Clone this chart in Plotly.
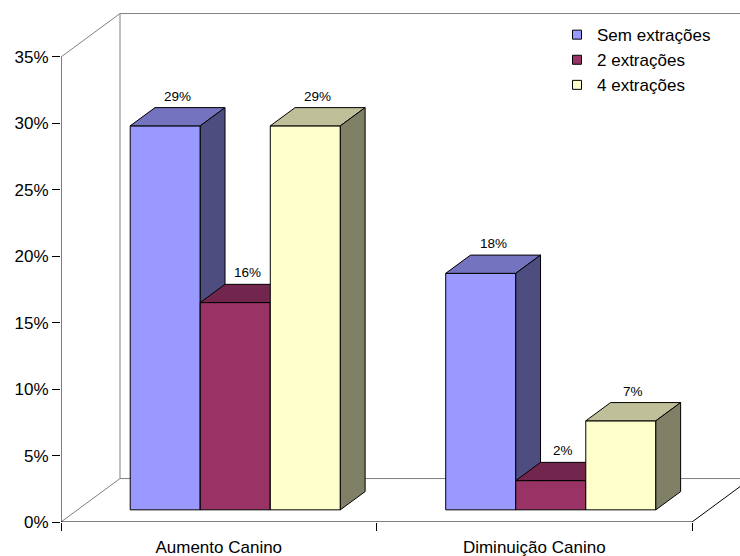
import plotly.graph_objects as go

# ---- data -------------------------------------------------------------
categories = ["Aumento Canino", "Diminuição Canino"]
series_names = ["Sem extrações", "2 extrações", "4 extrações"]
sem_extracoes = [28.9, 17.8]
duas_extracoes = [15.6, 2.2]
quatro_extracoes = [28.9, 6.7]
y_ticks = [0, 5, 10, 15, 20, 25, 30, 35]

series_values = [sem_extracoes, duas_extracoes, quatro_extracoes]

# ---- style ------------------------------------------------------------
front_colors = ["#9999FF", "#993366", "#FFFFCC"]
top_colors = ["#7373BF", "#73264D", "#BFBF99"]
side_colors = ["#4D4D80", "#4D1A33", "#808066"]
FONT = "Liberation Sans, Arial, sans-serif"

# oblique projection used for the 3-D look
DX = 0.187      # full depth offset along x (category units)
DY = 3.27       # full depth offset along y (percent units)
D_FRONT, D_BACK = 0.28, 0.70   # depth slab occupied by the bars
BAR_W = 0.222
Y_MAX = y_ticks[-1]
N_CAT = len(categories)


def proj(x, y, d):
    return x + d * DX, y + d * DY


def poly(points):
    xs = [p[0] for p in points] + [points[0][0]]
    ys = [p[1] for p in points] + [points[0][1]]
    return xs, ys


fig = go.Figure()

wall = dict(color="#808080", width=1)
edge = dict(color="#000000", width=1)

# back wall and floor outline
bx, by = proj(0, 0, 1)
tx, ty = proj(0, Y_MAX, 1)
fig.add_trace(go.Scatter(x=[0, tx, N_CAT + DX], y=[Y_MAX, ty, ty],
                         mode="lines", line=wall, hoverinfo="skip", showlegend=False))
fig.add_trace(go.Scatter(x=[bx, bx], y=[by, ty], mode="lines", line=wall,
                         hoverinfo="skip", showlegend=False))
fig.add_trace(go.Scatter(x=[0, bx, N_CAT + DX], y=[0, by, by], mode="lines", line=wall,
                         hoverinfo="skip", showlegend=False))
fig.add_trace(go.Scatter(x=[N_CAT, N_CAT + DX], y=[0, DY], mode="lines", line=edge,
                         hoverinfo="skip", showlegend=False))
# front axis lines
fig.add_trace(go.Scatter(x=[0, 0], y=[0, Y_MAX], mode="lines", line=edge,
                         hoverinfo="skip", showlegend=False))
fig.add_trace(go.Scatter(x=[0, N_CAT], y=[0, 0], mode="lines", line=edge,
                         hoverinfo="skip", showlegend=False))

# bars, painted left to right so later faces hide earlier sides
annotations = []
for i in range(N_CAT):
    for k, vals in enumerate(series_values):
        v = vals[i]
        x0 = i + 0.5 - 1.5 * BAR_W + k * BAR_W
        x1 = x0 + BAR_W
        front = [proj(x0, 0, D_FRONT), proj(x1, 0, D_FRONT),
                 proj(x1, v, D_FRONT), proj(x0, v, D_FRONT)]
        top = [proj(x0, v, D_FRONT), proj(x1, v, D_FRONT),
               proj(x1, v, D_BACK), proj(x0, v, D_BACK)]
        side = [proj(x1, 0, D_FRONT), proj(x1, v, D_FRONT),
                proj(x1, v, D_BACK), proj(x1, 0, D_BACK)]
        for pts, col in ((front, front_colors[k]), (top, top_colors[k]),
                         (side, side_colors[k])):
            xs, ys = poly(pts)
            fig.add_trace(go.Scatter(x=xs, y=ys, mode="lines", fill="toself",
                                     fillcolor=col, line=edge, hoverinfo="skip",
                                     showlegend=False, name=series_names[k]))
        lx, _ = proj((x0 + x1) / 2, v, (D_FRONT + D_BACK) / 2)
        _, ly = proj(x0, v, D_BACK)
        annotations.append(dict(x=lx, y=ly, xref="x", yref="y", text=f"{v:.0f}%",
                                showarrow=False, xanchor="center", yanchor="bottom",
                                yshift=2,
                                font=dict(family=FONT, size=13.5, color="#000000")))

# legend entries
for k, name in enumerate(series_names):
    fig.add_trace(go.Scatter(x=[None], y=[None], mode="markers", name=name,
                             marker=dict(symbol="square", size=9, color=front_colors[k],
                                         line=dict(color="#000000", width=1))))

fig.update_layout(
    width=740, height=556,
    margin=dict(l=61, r=0, t=12, b=34, autoexpand=False),
    paper_bgcolor="white", plot_bgcolor="white",
    font=dict(family=FONT, size=17, color="#000000"),
    annotations=annotations,
    legend=dict(x=0.7305, y=0.99, xanchor="left", yanchor="top",
                bgcolor="rgba(0,0,0,0)", borderwidth=0,
                font=dict(family=FONT, size=17, color="#000000")),
    xaxis=dict(range=[0, 679 / 315.5], showgrid=False, zeroline=False, showline=False,
               automargin=False,
               tickmode="array", tickvals=[i + 0.5 for i in range(N_CAT)],
               ticktext=categories, ticks="outside", ticklen=10,
               tickcolor="rgba(0,0,0,0)",
               minor=dict(tickmode="array", tickvals=list(range(N_CAT + 1)),
                          ticks="outside", ticklen=8, tickcolor="#000000", tickwidth=1),
               fixedrange=True),
    yaxis=dict(range=[0, 510 / 13.286], showgrid=False, zeroline=False, showline=False,
               automargin=False,
               tickmode="array", tickvals=y_ticks, ticktext=[f"{t}%" for t in y_ticks],
               ticks="outside", ticklen=8, tickcolor="#000000", tickwidth=1,
               fixedrange=True),
)

fig.write_html("out.html")
